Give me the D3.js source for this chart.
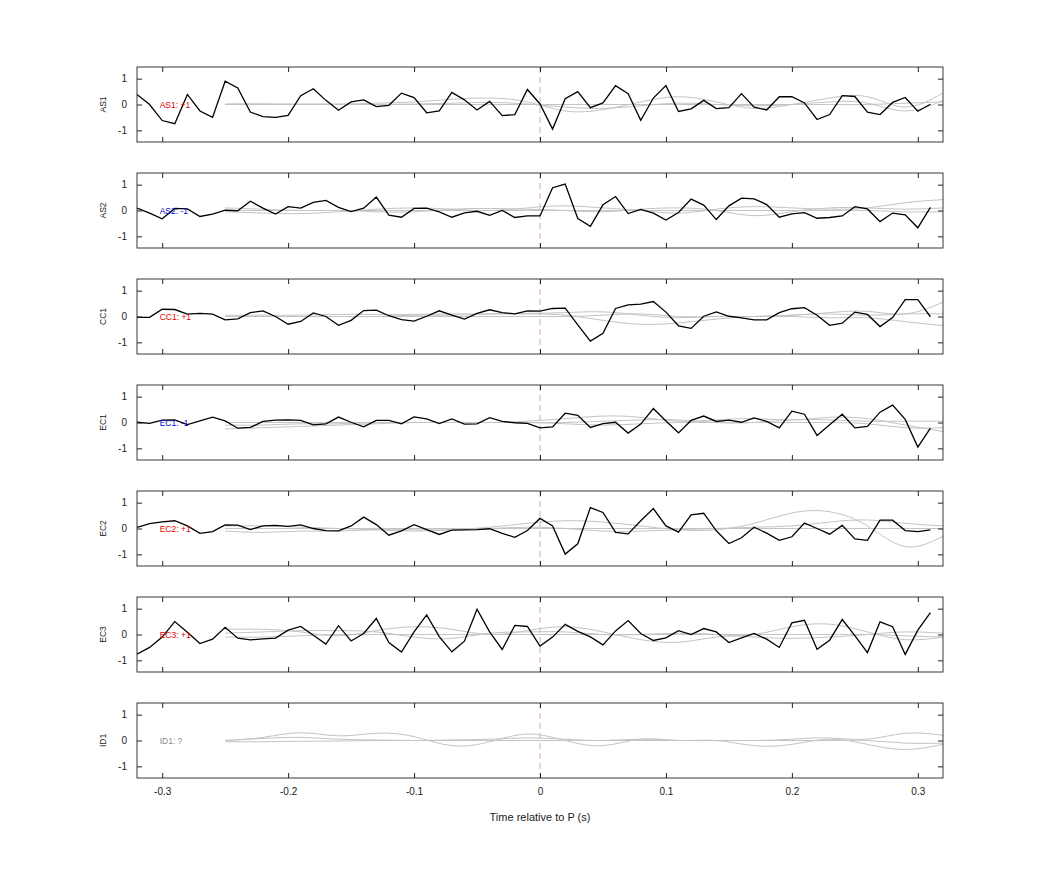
<!DOCTYPE html>
<html>
<head>
<meta charset="utf-8">
<script src="https://cdn.jsdelivr.net/npm/d3@7"></script>
<style>
  body { margin: 0; background: #fff; }
  text { font-family: "Liberation Sans", Arial, sans-serif; }
</style>
</head>
<body>
<div id="chart"></div>
<script>
// channel names and polarity labels
var channels = ["AS1", "AS2", "CC1", "EC1", "EC2", "EC3", "ID1"];
var polarity = ["+1", "-1", "+1", "-1", "+1", "+1", "?"];
var polColor = { "+1": "#e00000", "-1": "#0000d0", "?": "#888888" };
var xTicks = [-0.3, -0.2, -0.1, 0, 0.1, 0.2, 0.3];
var yTicks = [-1, 0, 1];

// black trace sample times, -0.32 .. 0.31 every 10 ms
var traceT = d3.range(64).map(function (i) { return +(-0.32 + i * 0.01).toFixed(2); });

var as1 = [0.39,0,-0.62,-0.74,0.39,-0.25,-0.5,0.9,0.64,-0.29,-0.47,-0.5,-0.42,0.34,0.61,0.16,-0.22,0.1,0.18,-0.08,-0.03,0.44,0.27,-0.32,-0.25,0.47,0.18,-0.21,0.12,-0.43,-0.39,0.58,
  0.02,-0.95,0.22,0.5,-0.12,0.06,0.73,0.42,-0.61,0.25,0.73,-0.27,-0.17,0.16,-0.16,-0.12,0.42,-0.1,-0.21,0.3,0.3,0.06,-0.58,-0.39,0.34,0.31,-0.3,-0.39,0.08,0.27,-0.26,0.01];
var as2 = [0.09,-0.1,-0.32,0.08,0.06,-0.23,-0.14,0.01,-0.01,0.36,0.09,-0.14,0.15,0.09,0.31,0.39,0.12,-0.04,0.09,0.52,-0.18,-0.26,0.08,0.09,-0.05,-0.26,-0.09,-0.03,-0.19,0,-0.27,-0.21,
  -0.21,0.88,1.02,-0.31,-0.61,0.22,0.54,-0.12,0.04,-0.1,-0.37,-0.08,0.44,0.21,-0.35,0.18,0.48,0.45,0.23,-0.26,-0.13,-0.08,-0.3,-0.27,-0.21,0.15,0.06,-0.43,-0.1,-0.17,-0.67,0.12];
var cc1 = [-0.03,-0.03,0.28,0.27,0.09,0.12,0.09,-0.13,-0.09,0.15,0.22,0,-0.3,-0.19,0.14,0,-0.34,-0.15,0.23,0.25,0.03,-0.12,-0.18,0.01,0.22,0.05,-0.1,0.12,0.26,0.15,0.1,0.22,
  0.21,0.31,0.32,-0.32,-0.95,-0.65,0.31,0.45,0.48,0.58,0.17,-0.36,-0.46,0.01,0.18,0.01,-0.05,-0.13,-0.13,0.15,0.3,0.34,0.05,-0.34,-0.26,0.17,0.08,-0.39,-0.04,0.65,0.65,-0.01];
var ec1 = [0.01,-0.03,0.09,0.1,-0.08,0.06,0.21,0.06,-0.22,-0.19,0.04,0.09,0.1,0.08,-0.09,-0.05,0.21,0.01,-0.17,0.08,0.08,-0.05,0.22,0.14,-0.04,0.14,-0.06,-0.05,0.19,0.04,-0.01,-0.03,
  -0.21,-0.17,0.36,0.28,-0.19,-0.04,0.01,-0.41,-0.06,0.54,0.06,-0.4,0.08,0.25,0.04,0.09,0.01,0.18,0.04,-0.21,0.44,0.32,-0.5,-0.09,0.32,-0.21,-0.15,0.4,0.67,0.12,-0.95,-0.22];
var ec2 = [0.04,0.19,0.26,0.3,0.1,-0.19,-0.12,0.14,0.13,-0.04,0.1,0.12,0.08,0.14,0,-0.08,-0.09,0.1,0.44,0.15,-0.26,-0.09,0.15,-0.04,-0.23,-0.06,-0.05,-0.04,-0.01,-0.19,-0.34,-0.08,
  0.39,0.1,-0.99,-0.59,0.81,0.62,-0.15,-0.21,0.3,0.77,0.1,-0.14,0.53,0.59,-0.09,-0.58,-0.36,0.05,-0.18,-0.46,-0.32,0.21,0,-0.22,0.12,-0.4,-0.46,0.32,0.32,-0.08,-0.12,-0.05];
var ec3 = [-0.76,-0.5,-0.1,0.5,0.09,-0.35,-0.18,0.28,-0.14,-0.21,-0.17,-0.14,0.17,0.31,-0.03,-0.37,0.34,-0.25,0.04,0.62,-0.31,-0.68,0.1,0.76,-0.08,-0.67,-0.26,0.98,0.1,-0.58,0.35,0.31,
  -0.45,-0.1,0.39,0.12,-0.09,-0.4,0.14,0.54,0.04,-0.23,-0.13,0.15,0,0.23,0.1,-0.31,-0.13,0.04,-0.18,-0.5,0.45,0.55,-0.57,-0.22,0.58,-0.04,-0.7,0.49,0.3,-0.77,0.17,0.85];
var traces = [as1, as2, cc1, ec1, ec2, ec3, null];

// gray reference curves, sampled every 30 ms from -0.25
var grayT = [-0.25,-0.22,-0.19,-0.16,-0.13,-0.10,-0.07,-0.04,-0.01,0.02,0.05,0.08,0.11,0.14,0.17,0.20,0.23,0.26,0.29,0.32];
var grayAS1 = [
  [0,0,0.02,0.02,0.05,0.1,0.2,0.25,0.1,-0.25,-0.2,0.1,0.3,0.1,-0.15,0,0.25,0.3,-0.1,0.45],
  [0.02,0.03,0,0,0,0.02,0.05,0.08,0.02,-0.1,-0.15,-0.05,0.05,0,-0.05,0,0.1,0.05,-0.25,0.15],
  [0,0,0,0,0,0,0,0,0,0,0,0,0,0,0,0,0,0,0.05,0.1]];
var grayAS2 = [
  [-0.05,-0.1,-0.12,-0.05,0.05,0.1,0.05,0,0.1,0.18,0.1,0,-0.1,0.05,0.15,0.1,0.05,0.1,0.3,0.42],
  [0.1,0.05,0,0,-0.05,-0.05,0.05,0.08,0.05,0,-0.05,0.05,0.1,0,-0.2,-0.05,0.1,0.1,0.05,0.1],
  [0,0,0,0,0,0,0,0,0,0,0,0,0,0,0,0,0,0,-0.05,-0.05]];
var grayCC1 = [
  [0.05,0.05,0.05,0.08,0.08,0.08,0.1,0.1,0.1,0.05,-0.15,-0.3,-0.25,-0.1,0,0.05,0.15,0.2,0.1,0.55],
  [0,0,0,0,0,0.05,0.05,0.1,0.12,0.15,0.18,0.05,-0.05,0,0,0,-0.05,-0.05,-0.2,-0.35],
  [0,0,0,0,0,0,0,0,0,0,0.05,0.1,0,0,0,0.05,0.1,0.05,0.1,0.1]];
var grayEC1 = [
  [-0.25,-0.2,-0.15,-0.1,-0.05,0,0,0,0.05,0.15,0.25,0.2,0.05,0.1,0.15,0.1,0.2,0.15,-0.1,-0.35],
  [0,0,0,0,0,0,0,0,0,0,0.05,0.1,0.1,0,0,0.1,0.1,0.05,0.05,0.05],
  [-0.1,-0.1,-0.05,-0.05,0,0,0,0,0,-0.05,-0.1,-0.05,0,0,0,0,0,-0.05,-0.2,-0.2]];
var grayEC2 = [
  [0.1,0.1,0.05,0,-0.05,-0.1,-0.05,0.05,0.2,0.3,0.25,0.1,-0.05,-0.05,0.2,0.6,0.65,0.1,-0.7,-0.3],
  [-0.1,-0.15,-0.1,-0.1,-0.05,-0.05,-0.05,0,0.05,0,-0.1,-0.1,-0.05,0,0.05,0.1,0.25,0.33,0.2,0.1],
  [0,0,0,0,0,0,0,0,0,0,0,0,0,0,0,0,0,0,0,0]];
var grayEC3 = [
  [0.2,0.2,0.1,-0.05,0.15,0.3,0.2,0,0.15,0.3,0.1,-0.2,-0.3,-0.1,0,0.3,0.4,0.1,-0.2,-0.1],
  [0.05,0.1,0.15,0.15,0.1,-0.1,-0.15,0.05,0.1,0.1,0,0,0.05,0,-0.1,-0.15,-0.1,0,0.1,0.05],
  [-0.1,-0.1,-0.05,0,0,0,0,0,0,0,0,0,0,0,0,0,0,0,-0.05,-0.1]];
var grayID1 = [
  [0,0.12,0.3,0.18,0.28,0.15,-0.2,-0.05,0.25,0,-0.2,0.05,0,0,-0.2,-0.15,0.05,-0.15,-0.35,-0.15],
  [0,0.08,0.12,0.05,0.02,0,0.02,0.05,0.1,0.05,0,0.05,0,0,0,0.05,0.1,0.05,0.28,0.2],
  [-0.05,-0.05,-0.03,-0.02,0,0,0,0,0,0,0,0,0,0,0,0,0,0,-0.1,-0.1]];
var grays = [grayAS1, grayAS2, grayCC1, grayEC1, grayEC2, grayEC3, grayID1];

var width = 1042, height = 875;
var left = 137, right = 943, top0 = 67, panelH = 75, step = 106, tickLen = 5;

// MATLAB-style hyphen minus
function fmt(d) { return (d === 0 ? "0" : String(d)).replace("\u2212", "-"); }

var svg = d3.select("#chart").append("svg")
  .attr("width", width).attr("height", height);

var x = d3.scaleLinear().domain([-0.32, 0.32]).range([left, right]);

channels.forEach(function (name, i) {
  var top = top0 + i * step;
  var y = d3.scaleLinear().domain([-1.45, 1.45]).range([top + panelH, top]);
  var g = svg.append("g");

  var clipId = "clip" + i;
  g.append("clipPath").attr("id", clipId).append("rect")
    .attr("x", left).attr("y", top).attr("width", right - left).attr("height", panelH);
  var plot = g.append("g").attr("clip-path", "url(#" + clipId + ")");

  // zero-time marker
  plot.append("line")
    .attr("x1", x(0)).attr("x2", x(0)).attr("y1", top).attr("y2", top + panelH)
    .attr("stroke", "#d8a0a0").attr("stroke-dasharray", "6,4").attr("stroke-width", 0.9);

  // gray reference curves
  var grayLine = d3.line()
    .x(function (d, j) { return x(grayT[j]); })
    .y(function (d) { return y(d); })
    .curve(d3.curveNatural);
  grays[i].forEach(function (c) {
    plot.append("path").attr("d", grayLine(c))
      .attr("fill", "none").attr("stroke", "#c4c4c4").attr("stroke-width", 1);
  });

  // label
  g.append("text").attr("x", x(-0.302)).attr("y", y(0) + 3)
    .attr("font-size", 8.5).attr("fill", polColor[polarity[i]])
    .text(name + ": " + polarity[i]);

  // black trace
  if (traces[i]) {
    var line = d3.line()
      .x(function (d, j) { return x(traceT[j]); })
      .y(function (d) { return y(d); });
    plot.append("path").attr("d", line(traces[i]))
      .attr("fill", "none").attr("stroke", "#000").attr("stroke-width", 1.3);
  }

  // axes (inward ticks, box)
  var yl = g.append("g").attr("transform", "translate(" + left + ",0)")
    .call(d3.axisLeft(y).tickValues(yTicks).tickSizeInner(-tickLen).tickSizeOuter(0).tickPadding(10).tickFormat(fmt));
  var yr = g.append("g").attr("transform", "translate(" + right + ",0)")
    .call(d3.axisRight(y).tickValues(yTicks).tickSizeInner(-tickLen).tickSizeOuter(0).tickFormat(""));
  var xt = g.append("g").attr("transform", "translate(0," + top + ")")
    .call(d3.axisTop(x).tickValues(xTicks).tickSizeInner(-tickLen).tickSizeOuter(0).tickFormat(""));
  var xb = g.append("g").attr("transform", "translate(0," + (top + panelH) + ")")
    .call(d3.axisBottom(x).tickValues(xTicks).tickSizeInner(-tickLen).tickSizeOuter(0).tickPadding(10)
      .tickFormat(i === channels.length - 1 ? fmt : ""));
  [yl, yr, xt, xb].forEach(function (a) {
    a.selectAll("text").attr("font-size", 10).attr("fill", "#222")
      .style("font-family", "'Liberation Sans', Arial, sans-serif");
    a.selectAll("line").attr("stroke", "#222");
    a.select(".domain").remove();
  });
  g.append("rect").attr("x", left).attr("y", top).attr("width", right - left).attr("height", panelH)
    .attr("fill", "none").attr("stroke", "#222").attr("stroke-width", 0.9);

  g.append("text")
    .attr("transform", "translate(106," + y(0) + ") rotate(-90)")
    .attr("text-anchor", "middle").attr("font-size", 8.5).attr("fill", "#222")
    .text(name);
});

svg.append("text").attr("x", x(0)).attr("y", 821).attr("text-anchor", "middle")
  .attr("font-size", 11).attr("fill", "#222").text("Time relative to P (s)");
</script>
</body>
</html>
